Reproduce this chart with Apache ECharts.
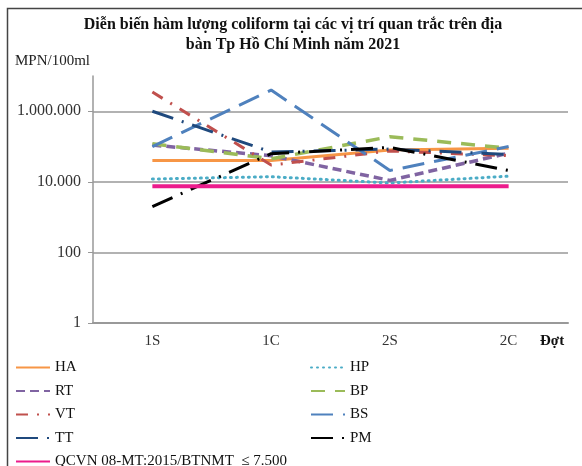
<!DOCTYPE html>
<html lang="vi">
<head>
    <meta charset="UTF-8">
    <title>Coliform 2021</title>
    <script src="https://cdn.jsdelivr.net/npm/echarts@6/dist/echarts.min.js"></script>
    <style>
        *{
            margin: 0;
            padding: 0;
        }
        html,body{
            width: 100%;
            height: 100%;
            background: #fff;
        }
        .container{
            width: 582px;
            height: 466px;
        }
    </style>
</head>
<body>
<div class="container"></div>
<script>
    // đợt quan trắc
    let categories = ['1S', '1C', '2S', '2C'];
    let seriesNames = ['HA', 'HP', 'RT', 'BP', 'VT', 'BS', 'TT', 'PM', 'QCVN 08-MT:2015/BTNMT  ≤ 7.500'];

    // MPN/100ml
    let HA = [40000, 40000, 80000, 90000];
    let HP = [12000, 14000, 9300, 14500];
    let RT = [110000, 55000, 11000, 65000];
    let BP = [120000, 45000, 190000, 90000];
    let VT = [3500000, 30000, 75000, 55000];
    let BS = [100000, 4000000, 21000, 100000];
    let TT = [1000000, 70000, 85000, 60000];
    let PM = [2000, 63000, 95000, 21000];
    let QCVN = [7500, 7500, 7500, 7500];

    let values = [HA, HP, RT, BP, VT, BS, TT, PM, QCVN];
    let colors = ['#f79646', '#4bacc6', '#8064a2', '#9bbb59', '#c0504d', '#4f81bd', '#1f497d', '#000000', '#ec1c8c'];
    let dashes = ['solid', [1, 5], [9, 5], [14, 10], [12, 9, 2, 9], [22, 10], [22, 9, 2, 9], [22, 9, 2, 9], 'solid'];
    let widths = [3, 3, 3.5, 3.5, 3, 3, 3, 3, 4];

    const serif = '"Liberation Serif", "Times New Roman", serif';

    let container = document.querySelector('.container');
    let chart = echarts.init(container);

    let series = values.map((v, i) => ({
        name: seriesNames[i],
        type: 'line',
        data: v,
        symbol: 'none',
        lineStyle: {
            color: colors[i],
            width: widths[i],
            type: dashes[i],
            cap: i == 1 ? 'round' : 'butt'
        },
        itemStyle: {color: colors[i]}
    }));

    function dotNumber(v) {
        return String(Math.round(v)).replace(/\B(?=(\d{3})+(?!\d))/g, '.');
    }

    let legendBase = {
        orient: 'vertical',
        top: 355,
        height: 140,
        itemWidth: 34,
        itemHeight: 14,
        itemGap: 8.5,
        itemStyle: {opacity: 0},
        textStyle: {fontFamily: serif, fontSize: 15, color: '#111'}
    };

    let option = {
        backgroundColor: '#fff',
        animation: false,
        title: {
            text: 'Diễn biến hàm lượng coliform tại các vị trí quan trắc trên địa\nbàn Tp Hồ Chí Minh năm 2021',
            left: 288,
            textAlign: 'center',
            top: 10,
            textStyle: {
                fontFamily: serif,
                fontSize: 16,
                fontWeight: 'bold',
                lineHeight: 20,
                color: '#111'
            }
        },
        legend: [
            Object.assign({}, legendBase, {left: 10, data: [seriesNames[0], seriesNames[2], seriesNames[4], seriesNames[6], seriesNames[8]]}),
            Object.assign({}, legendBase, {left: 305, data: [seriesNames[1], seriesNames[3], seriesNames[5], seriesNames[7]]})
        ],
        grid: {
            left: 93,
            right: 14,
            top: 76,
            bottom: 143,
            containLabel: false
        },
        xAxis: {
            type: 'category',
            data: categories,
            boundaryGap: true,
            axisLine: {lineStyle: {color: '#999', width: 2}},
            axisTick: {lineStyle: {color: '#999'}, length: 5},
            axisLabel: {fontFamily: serif, fontSize: 15, color: '#333', margin: 11}
        },
        yAxis: {
            type: 'log',
            logBase: 100,
            min: 1,
            max: 10000000,
            axisLine: {show: true, lineStyle: {color: '#999', width: 1.5}},
            axisTick: {show: true, length: 5, lineStyle: {color: '#999'}},
            axisLabel: {
                fontFamily: serif,
                fontSize: 16,
                color: '#333',
                margin: 12,
                showMaxLabel: false,
                formatter: v => dotNumber(v)
            },
            splitLine: {
                show: true,
                showMaxLine: false,
                lineStyle: {color: '#999', width: 1.5}
            }
        },
        graphic: [
            {
                type: 'rect',
                shape: {x: 7.5, y: 8.5, width: 700, height: 700},
                style: {fill: 'none', stroke: '#444', lineWidth: 1.5},
                silent: true
            },
            {
                type: 'text',
                left: 15,
                top: 54,
                style: {text: 'MPN/100ml', font: '15px ' + serif, fill: '#222'}
            },
            {
                type: 'text',
                left: 540,
                top: 334,
                style: {text: 'Đợt', font: 'bold 15px ' + serif, fill: '#111'}
            }
        ],
        series
    };
    chart.setOption(option);
</script>
</body>
</html>
